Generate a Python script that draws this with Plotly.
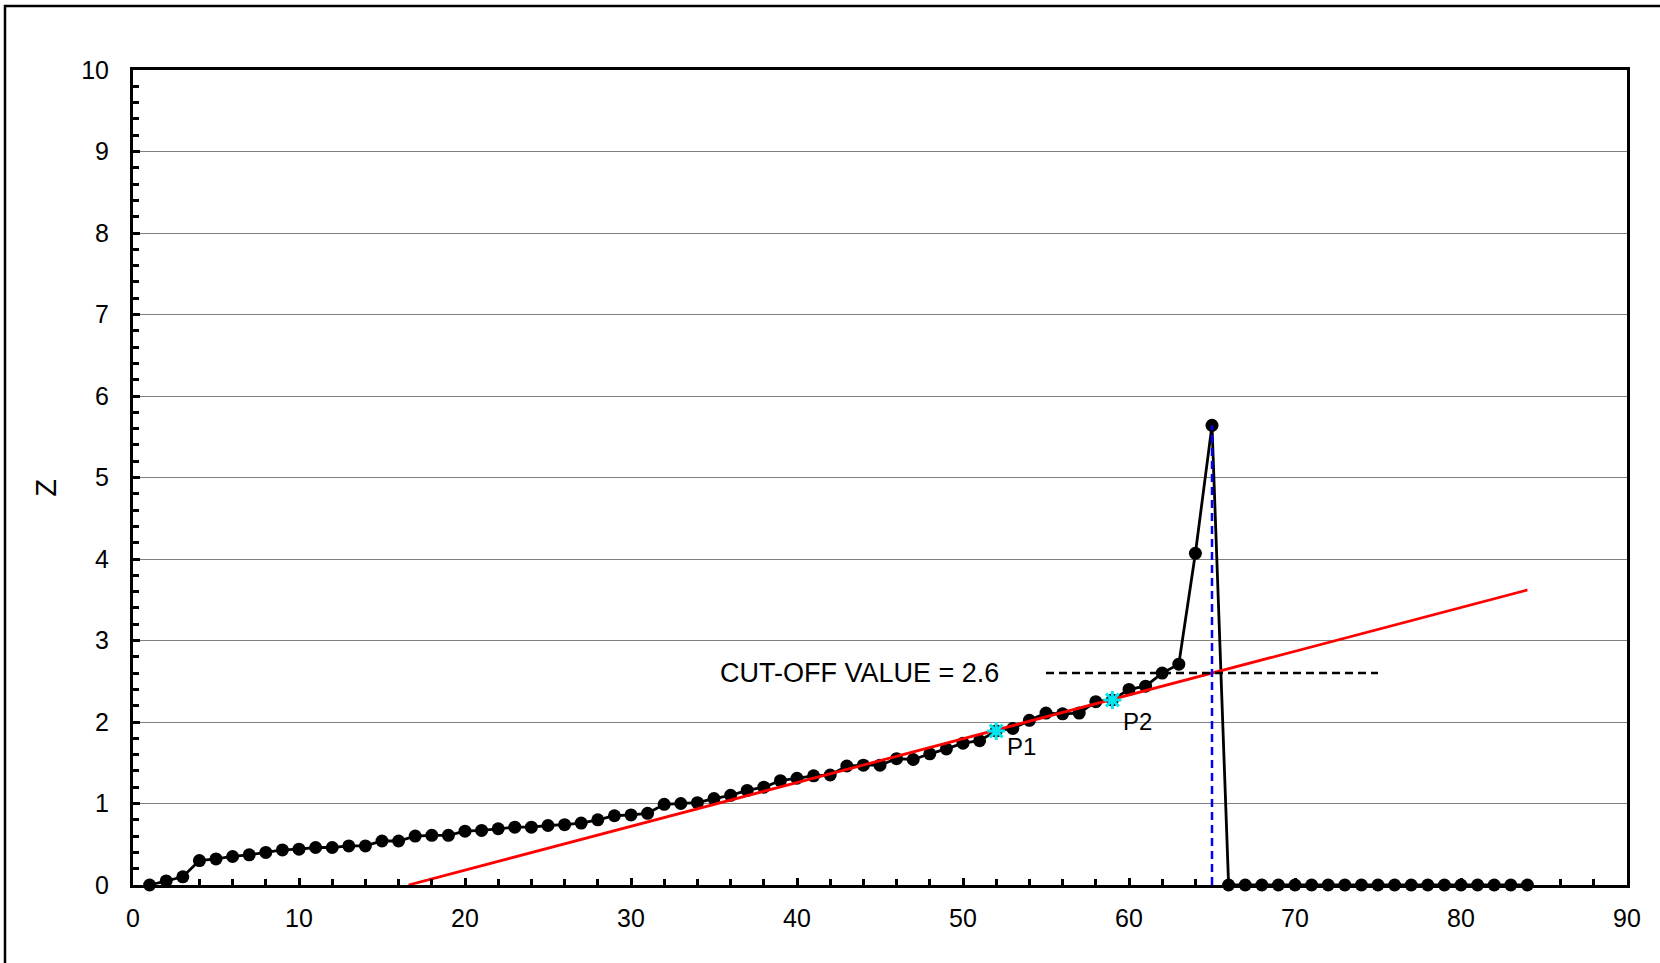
import plotly.graph_objects as go

# ---- data ----
sample_index = list(range(1, 85))
z_values = [
    0.00, 0.05, 0.10, 0.30, 0.32, 0.35, 0.37, 0.40, 0.43, 0.44,
    0.46, 0.46, 0.48, 0.48, 0.54, 0.54, 0.60, 0.61, 0.61, 0.66,
    0.67, 0.69, 0.71, 0.71, 0.73, 0.74, 0.76, 0.80, 0.85, 0.86,
    0.88, 0.99, 1.00, 1.01, 1.06, 1.10, 1.16, 1.20, 1.28, 1.31,
    1.34, 1.35, 1.46, 1.47, 1.47, 1.55, 1.54, 1.61, 1.67, 1.74,
    1.77, 1.89, 1.92, 2.02, 2.11, 2.10, 2.11, 2.25, 2.27, 2.40,
    2.44, 2.60, 2.71, 4.07, 5.64,
    0, 0, 0, 0, 0, 0, 0, 0, 0, 0, 0, 0, 0, 0, 0, 0, 0, 0, 0,
]
fit_x = [16.6, 84]
fit_y = [0.0, 3.62]
p_x = [52, 59]
p_y = [1.89, 2.27]
p_labels = ["P1", "P2"]
p_label_x = [52.5, 59.5]
p_label_y = [1.70, 2.01]
cutoff_value = 2.6
cutoff_line_x = [55, 75]
cutoff_index = 65
peak_value = 5.64
x_ticks = list(range(0, 91, 10))
y_ticks = list(range(0, 11, 1))

FONT = "Liberation Sans, Arial, sans-serif"

fig = go.Figure()
fig.add_trace(go.Scatter(
    x=sample_index, y=z_values, mode="lines+markers",
    line=dict(color="black", width=2.8),
    marker=dict(color="black", size=13),
    cliponaxis=False, showlegend=False))
fig.add_trace(go.Scatter(
    x=fit_x, y=fit_y, mode="lines",
    line=dict(color="#ff0000", width=2.8), showlegend=False))
fig.add_trace(go.Scatter(
    x=cutoff_line_x, y=[cutoff_value, cutoff_value], mode="lines",
    line=dict(color="black", width=2.5, dash="8px,5px"), showlegend=False))
fig.add_trace(go.Scatter(
    x=[cutoff_index, cutoff_index], y=[0, peak_value], mode="lines",
    line=dict(color="#0000ff", width=2.5, dash="8px,5px"), showlegend=False))
fig.add_trace(go.Scatter(
    x=p_x, y=p_y, mode="markers",
    marker=dict(symbol="asterisk-open", size=15, color="#00e5ee",
                line=dict(color="#00e5ee", width=3)),
    showlegend=False))

# labels
fig.add_annotation(x=52.3, y=cutoff_value, text="CUT-OFF VALUE = 2.6",
                   showarrow=False, xanchor="right", yanchor="middle",
                   font=dict(family=FONT, size=27, color="black"))
for lx, ly, lab in zip(p_label_x, p_label_y, p_labels):
    fig.add_annotation(x=lx, y=ly, text=lab, showarrow=False,
                       xanchor="left", yanchor="middle",
                       font=dict(family=FONT, size=24, color="black"))
fig.add_annotation(xref="paper", yref="paper", x=-0.058, y=0.488, text="Z",
                   textangle=-90, showarrow=False, xanchor="center", yanchor="middle",
                   font=dict(family=FONT, size=29, color="black"))

# outer border
fig.add_shape(type="rect", xref="paper", yref="paper",
              x0=(5 - 133) / 1494, x1=1.03, y0=-0.12, y1=(885 - 6) / 815,
              line=dict(color="black", width=2.5), fillcolor="rgba(0,0,0,0)", layer="below")

fig.update_xaxes(range=[0, 90], tickvals=x_ticks, ticks="inside", ticklen=7,
                 tickwidth=2.5, tickcolor="black",
                 minor=dict(dtick=2, ticks="inside", ticklen=6, tickwidth=2.5, tickcolor="black"),
                 showline=True, linecolor="black", linewidth=3, mirror=True,
                 showgrid=False, zeroline=False, ticklabelstandoff=9,
                 tickfont=dict(family=FONT, size=25, color="black"))
fig.update_yaxes(range=[0, 10], tickvals=y_ticks, ticks="inside", ticklen=7,
                 tickwidth=2.5, tickcolor="black",
                 minor=dict(dtick=0.2, ticks="inside", ticklen=6, tickwidth=2.5, tickcolor="black"),
                 showline=True, linecolor="black", linewidth=3, mirror=True,
                 showgrid=True, gridcolor="#808080", gridwidth=1.2, zeroline=False,
                 ticklabelstandoff=16,
                 tickfont=dict(family=FONT, size=25, color="black"))

fig.update_layout(width=1660, height=963,
                  margin=dict(l=133, r=33, t=70, b=78),
                  plot_bgcolor="white", paper_bgcolor="white",
                  font=dict(family=FONT, color="black"))

fig.write_html("out.html", config={"displayModeBar": False},
               post_script="document.body.style.margin='0';document.body.style.overflow='hidden';")
